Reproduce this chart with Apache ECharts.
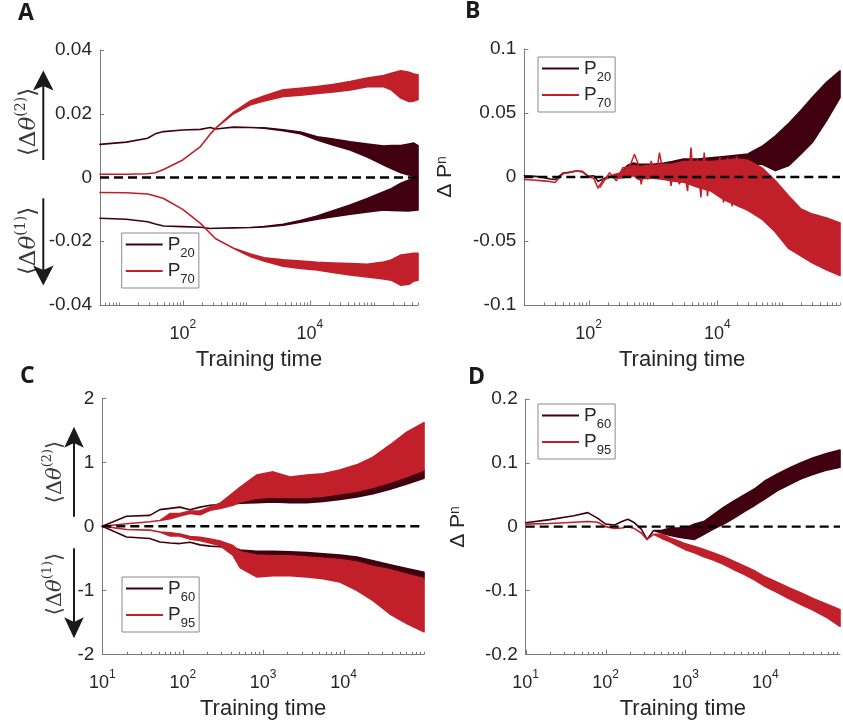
<!DOCTYPE html>
<html><head><meta charset="utf-8">
<script src="https://cdn.jsdelivr.net/npm/echarts@6/dist/echarts.min.js"></script>
<style>html,body{margin:0;padding:0;background:#fff}#c{width:843px;height:727px}</style>
</head><body><div id="c"></div>
<script>
// ================= DATA =================
// Panel A  (training time, envelope lo/hi of each noisy trace)
const tA = [5, 13, 28, 37, 50, 100, 190, 270, 330, 630, 1160, 1900, 3800, 7100, 13000, 23000, 43000, 80000, 145000, 190000, 270000, 360000, 430000, 500000];
const aP20UpLo = [0.0104,0.0111,0.0123,0.0137,0.0144,0.0149,0.0151,0.0157,0.0152,0.0158,0.0157,0.0155,0.0147,0.0137,0.0118,0.0102,0.0086,0.0064,0.0039,0.0028,0.0015,0.0008,0.0004,0.0000];
const aP20UpHi = [0.0104,0.0111,0.0123,0.0137,0.0144,0.0149,0.0151,0.0157,0.0152,0.0158,0.0157,0.0156,0.0150,0.0143,0.0128,0.0121,0.0112,0.0105,0.0099,0.0100,0.0100,0.0105,0.0108,0.0100];
const aP20DnLo = [-0.0128,-0.0131,-0.0139,-0.0146,-0.0152,-0.0154,-0.0156,-0.0160,-0.0159,-0.0158,-0.0157,-0.0155,-0.0150,-0.0140,-0.0131,-0.0123,-0.0115,-0.0108,-0.0102,-0.0103,-0.0104,-0.0105,-0.0103,-0.0102];
const aP20DnHi = [-0.0128,-0.0131,-0.0139,-0.0146,-0.0152,-0.0154,-0.0156,-0.0160,-0.0159,-0.0158,-0.0157,-0.0154,-0.0147,-0.0135,-0.0121,-0.0104,-0.0086,-0.0066,-0.0045,-0.0035,-0.0018,-0.0008,-0.0003,0.0000];
const aP70UpLo = [0.0010,0.0010,0.0012,0.0015,0.0025,0.0055,0.0097,0.0136,0.0155,0.0200,0.0228,0.0240,0.0254,0.0258,0.0264,0.0268,0.0275,0.0285,0.0285,0.0275,0.0249,0.0238,0.0240,0.0245];
const aP70UpHi = [0.0010,0.0010,0.0012,0.0015,0.0025,0.0055,0.0097,0.0136,0.0155,0.0205,0.0240,0.0256,0.0275,0.0280,0.0285,0.0292,0.0301,0.0312,0.0320,0.0327,0.0335,0.0330,0.0325,0.0322];
const aP70DnLo = [-0.0047,-0.0048,-0.0052,-0.0058,-0.0066,-0.0100,-0.0144,-0.0175,-0.0192,-0.0222,-0.0248,-0.0262,-0.0278,-0.0285,-0.0290,-0.0298,-0.0306,-0.0312,-0.0318,-0.0322,-0.0338,-0.0335,-0.0325,-0.0322];
const aP70DnHi = [-0.0047,-0.0048,-0.0052,-0.0058,-0.0066,-0.0100,-0.0144,-0.0175,-0.0192,-0.0222,-0.0240,-0.0252,-0.0258,-0.0262,-0.0266,-0.0268,-0.0270,-0.0272,-0.0265,-0.0259,-0.0243,-0.0240,-0.0238,-0.0238];

// Panel B
const tB = [10,15,20,25,30,40,50,65,80,100,120,140,170,200,250,300,400,500,600,800,1000,1500,2000,3000,5000,8000,13000,20000,30000,50000,80000,130000,200000,300000,500000,810000];
const bP20Lo = [0.0010,0.0005,-0.0003,-0.0016,-0.0020,0.0030,0.0036,0.0047,0.0042,0.0005,0.0010,-0.0034,-0.0016,0.0005,0.0005,0.0018,0.0060,0.0040,0.0050,0.0060,0.0060,0.0060,0.0070,0.0080,0.0080,0.0080,0.0080,0.0090,0.0100,0.0100,0.0050,0.0090,0.0180,0.0270,0.0440,0.0620];
const bP20Hi = [0.0010,0.0005,-0.0003,-0.0016,-0.0020,0.0030,0.0036,0.0047,0.0042,0.0005,0.0010,-0.0034,-0.0016,0.0005,0.0005,0.0018,0.0090,0.0110,0.0100,0.0100,0.0100,0.0110,0.0120,0.0140,0.0140,0.0150,0.0160,0.0170,0.0180,0.0240,0.0320,0.0420,0.0520,0.0620,0.0740,0.0830];
const bP70Lo = [-0.0020,-0.0025,-0.0030,-0.0035,-0.0043,0.0026,0.0036,0.0047,0.0042,0.0000,-0.0010,-0.0086,-0.0020,-0.0010,0.0020,-0.0010,0.0000,0.0010,-0.0020,-0.0010,-0.0010,-0.0020,-0.0030,-0.0040,-0.0080,-0.0110,-0.0180,-0.0220,-0.0260,-0.0330,-0.0430,-0.0560,-0.0615,-0.0670,-0.0725,-0.0770];
const bP70Hi = [-0.0020,-0.0025,-0.0030,-0.0035,-0.0043,0.0026,0.0036,0.0047,0.0042,0.0000,-0.0010,-0.0086,-0.0020,-0.0010,0.0020,0.0030,0.0070,0.0090,0.0080,0.0090,0.0090,0.0100,0.0100,0.0120,0.0120,0.0120,0.0130,0.0140,0.0130,0.0070,-0.0030,-0.0150,-0.0250,-0.0290,-0.0320,-0.0360];
// spikes of the P70 trace in its early noisy stretch
const tBspk = [149,212,269,341,433,517,582,657,739,831,938,1121,1262,1508,1696,1914,2153,2573,3076,3459,3901,4387,4934,5568,6266,7047,7955,9508,11000,12500,14500,17000,20000,23000];
const bP70spk = [-0.0083,0.0034,-0.0030,0.0073,0.0080,0.0177,0.0110,-0.0057,0.0086,-0.0020,0.0125,0.0008,0.0190,-0.0018,0.0086,-0.0070,0.0110,-0.0057,0.0034,-0.0110,0.0230,-0.0070,0.0138,-0.0160,0.0190,-0.0150,0.0110,-0.0120,0.0160,-0.0200,0.0150,-0.0230,0.0160,-0.0240];

// Panel C
const tC = [10,20,39,52,70,92,123,164,219,291,420,520,830,1330,2160,3500,5560,9000,14600,23300,37800,61100,100000];
const cP60UpLo = [0,0.156,0.17,0.26,0.28,0.30,0.26,0.30,0.33,0.34,0.35,0.36,0.37,0.38,0.37,0.37,0.39,0.42,0.46,0.51,0.58,0.66,0.75];
const cP60UpHi = [0,0.156,0.17,0.26,0.28,0.30,0.26,0.30,0.33,0.34,0.37,0.40,0.44,0.46,0.45,0.45,0.47,0.51,0.55,0.61,0.69,0.78,0.88];
const cP60DnLo = [0,-0.167,-0.19,-0.245,-0.26,-0.27,-0.25,-0.29,-0.31,-0.32,-0.36,-0.42,-0.45,-0.46,-0.46,-0.48,-0.50,-0.52,-0.56,-0.63,-0.68,-0.75,-0.82];
const cP60DnHi = [0,-0.167,-0.19,-0.245,-0.26,-0.27,-0.25,-0.29,-0.31,-0.32,-0.33,-0.37,-0.39,-0.39,-0.40,-0.41,-0.43,-0.45,-0.48,-0.54,-0.60,-0.66,-0.72];
const cP95UpLo = [0,0.04,0.07,0.09,0.12,0.16,0.20,0.18,0.25,0.28,0.33,0.38,0.44,0.46,0.45,0.45,0.47,0.51,0.55,0.61,0.69,0.78,0.88];
const cP95UpHi = [0,0.04,0.07,0.09,0.20,0.20,0.24,0.24,0.30,0.36,0.52,0.61,0.80,0.85,0.77,0.80,0.82,0.88,0.96,1.08,1.27,1.47,1.62];
const cP95DnLo = [0,-0.05,-0.06,-0.09,-0.15,-0.15,-0.20,-0.22,-0.26,-0.30,-0.45,-0.65,-0.79,-0.77,-0.77,-0.79,-0.82,-0.87,-1.00,-1.16,-1.37,-1.52,-1.65];
const cP95DnHi = [0,-0.05,-0.06,-0.09,-0.10,-0.12,-0.16,-0.17,-0.20,-0.23,-0.30,-0.40,-0.45,-0.46,-0.46,-0.48,-0.50,-0.52,-0.56,-0.63,-0.68,-0.75,-0.82];

// Panel D
const tD = [10,20,40,60,80,100,130,160,190,230,280,330,400,500,650,800,1000,1300,1700,2200,3000,4000,5500,7500,10000,14000,20000,28000,40000,60000,86000];
const dP60Lo = [0.006,0.011,0.017,0.022,0.013,0.004,0.0026,0.008,0.0115,0.006,-0.004,-0.020,-0.006,-0.010,-0.014,-0.016,-0.018,-0.020,-0.012,-0.004,0.004,0.013,0.024,0.034,0.044,0.056,0.066,0.075,0.082,0.089,0.093];
const dP60Hi = [0.006,0.011,0.017,0.022,0.013,0.004,0.0026,0.008,0.0115,0.006,-0.004,-0.020,-0.006,-0.006,-0.002,-0.002,-0.002,0.004,0.008,0.018,0.030,0.040,0.050,0.060,0.072,0.082,0.092,0.100,0.108,0.115,0.120];
const dP95Lo = [0.004,0.005,0.007,0.008,0.007,0.000,-0.003,-0.002,0.000,-0.003,-0.010,-0.020,-0.012,-0.018,-0.024,-0.030,-0.036,-0.041,-0.047,-0.052,-0.059,-0.067,-0.075,-0.084,-0.094,-0.103,-0.113,-0.122,-0.131,-0.143,-0.156];
const dP95Hi = [0.004,0.005,0.007,0.008,0.007,0.000,-0.003,-0.002,0.000,-0.003,-0.010,-0.020,-0.012,-0.012,-0.018,-0.022,-0.027,-0.031,-0.036,-0.041,-0.047,-0.054,-0.062,-0.070,-0.079,-0.087,-0.096,-0.104,-0.113,-0.122,-0.130];

// axis ranges and labelled decades
const xRanges = [[5, 5e5], [10, 8.1e5], [10, 1e5], [10, 8.6e4]];
const yRanges = [[-0.04, 0.04, 0.02], [-0.1, 0.1, 0.05], [-2, 2, 1], [-0.2, 0.2, 0.1]];
const labelledDecades = [[2, 4], [2, 4], [1, 2, 3, 4], [1, 2, 3, 4]];
const xTitle = 'Training time';
const panelLetters = ['A', 'B', 'C', 'D'];

// ================= STYLE / LAYOUT =================
const DARK = '#400010', RED = '#c1202a';
const FONT = '"Liberation Sans", Arial, Helvetica, sans-serif';
const SERIF = '"DejaVu Serif", "Liberation Serif", serif';
const TXT = '#262626', AX = '#7a7a7a';
const grids = [
  {left: 100, top: 50, width: 318, height: 255},
  {left: 524.3, top: 49, width: 317.4, height: 256},
  {left: 102.3, top: 398.3, width: 321.7, height: 256},
  {left: 525.7, top: 399, width: 317.3, height: 255.3}
];

const chart = echarts.init(document.getElementById('c'), null, {renderer: 'canvas'});

function logExp(v) { const l = Math.log10(v); const e = Math.round(l); return Math.abs(l - e) < 1e-6 ? e : null; }

const xAxes = grids.map((g, i) => ({
  gridIndex: i, type: 'log', logBase: 10, min: xRanges[i][0], max: xRanges[i][1],
  axisLine: {show: true, onZero: false, lineStyle: {color: AX, width: 1}},
  axisTick: {show: false}, splitLine: {show: false}, minorTick: {show: false},
  axisLabel: {
    margin: 14, color: TXT,
    formatter: v => { const e = logExp(v); return (e !== null && labelledDecades[i].includes(e)) ? '{b|10}{s|' + e + '}' : ''; },
    rich: {
      b: {fontSize: 18, fontFamily: FONT, color: TXT, lineHeight: 24, verticalAlign: 'bottom'},
      s: {fontSize: 12, fontFamily: FONT, color: TXT, lineHeight: 11, verticalAlign: 'top'}
    }
  },
  name: xTitle, nameLocation: 'middle', nameGap: 44,
  nameTextStyle: {fontSize: 22, fontFamily: FONT, color: TXT}
}));

const yAxes = grids.map((g, i) => ({
  gridIndex: i, type: 'value', min: yRanges[i][0], max: yRanges[i][1], interval: yRanges[i][2],
  axisLine: {show: true, onZero: false, lineStyle: {color: AX, width: 1}},
  axisTick: {show: true, inside: true, length: 4, lineStyle: {color: AX}},
  splitLine: {show: false},
  axisLabel: {fontSize: 19, fontFamily: FONT, color: TXT, margin: 8}
}));

const series = [];
// a noisy trace drawn as the filled band between its lower and upper envelope
function addBand(pi, name, t, lo, hi, color) {
  series.push({
    type: 'custom', name, xAxisIndex: pi, yAxisIndex: pi, silent: true, animation: false, z: 2,
    color, itemStyle: {color},
    data: t.map((x, k) => [x, lo[k], hi[k]]),
    encode: {x: 0, y: [1, 2]},
    renderItem: (params, api) => {
      if (params.dataIndexInside !== 0) return null;
      const n = params.dataInsideLength;
      const pts = [];
      for (let j = 0; j < n; j++) pts.push(api.coord([api.value(0, j), api.value(1, j)]));
      for (let j = n - 1; j >= 0; j--) pts.push(api.coord([api.value(0, j), api.value(2, j)]));
      return {type: 'polygon', shape: {points: pts}, style: {fill: color, stroke: color, lineWidth: 1.6, lineJoin: 'round'}};
    }
  });
}
function addLine(pi, name, t, v, color) {
  series.push({type: 'line', name, xAxisIndex: pi, yAxisIndex: pi, silent: true, animation: false, z: 2,
    symbol: 'none', color, itemStyle: {color}, lineStyle: {color, width: 1.5}, data: t.map((x, k) => [x, v[k]])});
}
addBand(0, 'aP20', tA, aP20UpLo, aP20UpHi, DARK);
addBand(0, 'aP20', tA, aP20DnLo, aP20DnHi, DARK);
addBand(0, 'aP70', tA, aP70UpLo, aP70UpHi, RED);
addBand(0, 'aP70', tA, aP70DnLo, aP70DnHi, RED);
addBand(1, 'bP20', tB, bP20Lo, bP20Hi, DARK);
addBand(1, 'bP70', tB, bP70Lo, bP70Hi, RED);
addLine(1, 'bP70', tBspk, bP70spk, RED);
addBand(2, 'cP60', tC, cP60UpLo, cP60UpHi, DARK);
addBand(2, 'cP60', tC, cP60DnLo, cP60DnHi, DARK);
addBand(2, 'cP95', tC, cP95UpLo, cP95UpHi, RED);
addBand(2, 'cP95', tC, cP95DnLo, cP95DnHi, RED);
addBand(3, 'dP60', tD, dP60Lo, dP60Hi, DARK);
addBand(3, 'dP95', tD, dP95Lo, dP95Hi, RED);

// dashed zero lines + log ticks (major/minor) on each x axis
grids.forEach((g, i) => {
  const [x0, x1] = xRanges[i];
  series.push({type: 'line', xAxisIndex: i, yAxisIndex: i, data: [[x0, 0], [x1, 0]], symbol: 'none', silent: true,
    animation: false, lineStyle: {color: '#000', width: 2.4, type: [9, 5]}, z: 3});
  const ticks = [];
  for (let e = Math.floor(Math.log10(x0)); e <= Math.ceil(Math.log10(x1)); e++) {
    for (let k = 1; k <= 9; k++) {
      const v = k * Math.pow(10, e);
      if (v >= x0 * 0.999 && v <= x1 * 1.001) ticks.push([v, yRanges[i][0], (k === 1 && labelledDecades[i].includes(e)) ? 1 : 0]);
    }
  }
  series.push({type: 'custom', xAxisIndex: i, yAxisIndex: i, data: ticks, silent: true, animation: false, clip: false, z: 4,
    renderItem: (params, api) => {
      const p = api.coord([api.value(0), api.value(1)]);
      const x = Math.round(p[0]) + 0.5;
      const len = api.value(2) ? 4.5 : 2.5;
      return {type: 'line', shape: {x1: x, y1: p[1], x2: x, y2: p[1] - len}, style: {stroke: AX, lineWidth: 1}};
    }});
});

const legendPos = [[121.7, 233], [538, 57], [122, 577], [538, 404]];
const legendNames = [['aP20', 'aP70'], ['bP20', 'bP70'], ['cP60', 'cP95'], ['dP60', 'dP95']];
const legends = legendPos.map((p, i) => ({
  orient: 'vertical', left: p[0], top: p[1], padding: [2, 4, 2, 4], itemGap: 2,
  itemWidth: 37, itemHeight: 2, icon: 'rect', borderColor: '#8a8a8a', borderWidth: 1, backgroundColor: '#fff',
  selectedMode: false, data: legendNames[i],
  formatter: n => '{p|P}{s|' + n.slice(2) + '}',
  textStyle: {rich: {
    p: {fontSize: 19, fontFamily: FONT, color: TXT, lineHeight: 30, verticalAlign: 'middle'},
    s: {fontSize: 13, fontFamily: FONT, color: TXT, lineHeight: 11, verticalAlign: 'bottom'}
  }}
}));

// annotations: panel letters, y-titles, arrows
const graphic = [];
[[18, 13], [465, 11], [20, 376], [468, 377]].forEach((p, i) => graphic.push({
  type: 'text', x: p[0], y: p[1], silent: true,
  style: {text: panelLetters[i], fontSize: 23, fontWeight: 'bold', fontFamily: '"Open Sans", "DejaVu Sans", sans-serif', fill: '#1a1a1a', align: 'left', verticalAlign: 'middle'}
}));
function thetaLabel(x, y, sup, fs) {
  graphic.push({type: 'text', x, y, rotation: Math.PI / 2, silent: true,
    style: {text: '{m|⟨Δ}{t|θ}{s|(' + sup + ')}{m|⟩}', align: 'center', verticalAlign: 'middle', fill: '#3a3a3a',
      rich: {
        m: {fontSize: fs, fontFamily: SERIF, fill: '#3a3a3a', lineHeight: 30, verticalAlign: 'middle'},
        t: {fontSize: fs, fontFamily: SERIF, fontStyle: 'italic', fill: '#3a3a3a', lineHeight: 30, verticalAlign: 'middle'},
        s: {fontSize: Math.round(fs * 0.6), fontFamily: SERIF, fill: '#3a3a3a', lineHeight: 12, verticalAlign: 'top'}
      }}});
}
thetaLabel(29, 122, 2, 23); thetaLabel(29, 241, 1, 23);
thetaLabel(56, 472, 2, 21); thetaLabel(56, 584, 1, 21);
function dpLabel(x, y) {
  graphic.push({type: 'text', x, y, rotation: Math.PI / 2, silent: true,
    style: {text: '{a|Δ P}{s|n}', align: 'center', verticalAlign: 'middle', fill: TXT,
      rich: {
        a: {fontSize: 21, fontFamily: FONT, fill: TXT, lineHeight: 22, verticalAlign: 'top'},
        s: {fontSize: 14, fontFamily: FONT, fill: TXT, lineHeight: 50, verticalAlign: 'top'}
      }}});
}
dpLabel(460, 177); dpLabel(473, 527);
function arrow(x, yStart, yTip, headLen, halfW) {
  const d = Math.sign(yTip - yStart);
  graphic.push({type: 'line', silent: true, shape: {x1: x, y1: yStart, x2: x, y2: yTip - d * headLen * 0.7},
    style: {stroke: '#1a1a1a', lineWidth: 2}});
  graphic.push({type: 'polygon', silent: true,
    shape: {points: [[x, yTip], [x - halfW, yTip - d * headLen], [x, yTip - d * headLen * 0.78], [x + halfW, yTip - d * headLen]]},
    style: {fill: '#1a1a1a'}});
}
arrow(43.3, 160, 70.5, 20, 10.3); arrow(43.3, 198.3, 285.5, 20, 10.3);
arrow(74, 516.7, 426.7, 21, 9.8); arrow(74, 548.3, 638.3, 21, 9.8);

chart.setOption({
  animation: false, backgroundColor: '#fff',
  grid: grids, xAxis: xAxes, yAxis: yAxes, legend: legends, series, graphic
});
</script></body></html>
